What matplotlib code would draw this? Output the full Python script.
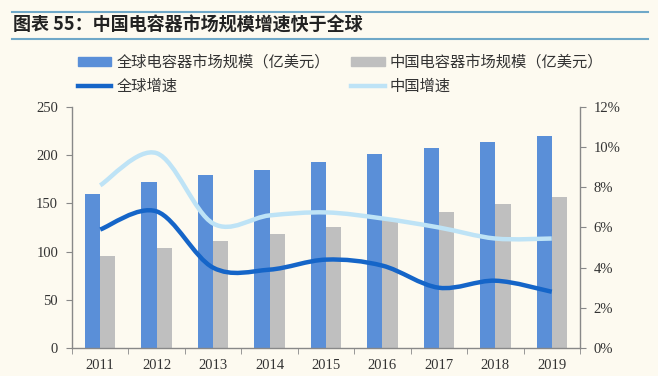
import numpy as np
import matplotlib
matplotlib.use('Agg')
import matplotlib.pyplot as plt
from matplotlib.path import Path
from matplotlib.patches import PathPatch, Patch
from matplotlib.lines import Line2D
from matplotlib.ticker import FuncFormatter

plt.rcParams['font.family'] = ['Liberation Serif', 'Noto Sans CJK SC', 'DejaVu Sans']

years = ['2011', '2012', '2013', '2014', '2015', '2016', '2017', '2018', '2019']
global_size = [160, 172, 179, 185, 193, 201, 207, 214, 220]
china_size = [95, 104, 111, 118, 125, 133, 141, 149, 157]
global_growth = [5.9, 6.8, 4.0, 3.9, 4.4, 4.1, 3.0, 3.35, 2.8]
china_growth = [8.1, 9.7, 6.2, 6.6, 6.75, 6.45, 6.0, 5.45, 5.45]

BG = '#FDFAF0'
C_GLOBAL = '#5A8FD8'
C_CHINA = '#BFBFBF'
C_GG = '#1565C8'
C_CG = '#BEE3F6'
AXC = '#888888'


def smooth_path(xs, ys):
    # Excel-like smoothed line: Catmull-Rom segments as cubic Bezier
    pts = np.column_stack([xs, ys]).astype(float)
    n = len(pts)
    verts = [pts[0]]
    codes = [Path.MOVETO]
    for i in range(n - 1):
        p0 = pts[i - 1] if i > 0 else pts[i]
        p1 = pts[i]
        p2 = pts[i + 1]
        p3 = pts[i + 2] if i + 2 < n else pts[i + 1]
        c1 = p1 + (p2 - p0) / 6.0
        c2 = p2 - (p3 - p1) / 6.0
        verts += [c1, c2, p2]
        codes += [Path.CURVE4] * 3
    return Path(verts, codes)


fig = plt.figure(figsize=(6.58, 3.76), dpi=100, facecolor=BG)
ax = fig.add_axes([0.1094, 0.0745, 0.772, 0.641], facecolor=BG)
ax2 = ax.twinx()

x = np.arange(len(years))
w = 0.27
ax.bar(x - w / 2, global_size, w, color=C_GLOBAL, zorder=2)
ax.bar(x + w / 2, china_size, w, color=C_CHINA, zorder=2)

ax2.add_patch(PathPatch(smooth_path(x, global_growth), fill=False, edgecolor=C_GG,
                        lw=3.2, capstyle='butt', zorder=3))
ax2.add_patch(PathPatch(smooth_path(x, china_growth), fill=False, edgecolor=C_CG,
                        lw=3.2, capstyle='butt', zorder=3))

ax.set_xlim(-0.5, len(years) - 0.5)
ax.set_ylim(0, 250)
ax.set_yticks(range(0, 251, 50))
ax2.set_ylim(0, 12)
ax2.set_yticks(range(0, 13, 2))
ax2.yaxis.set_major_formatter(FuncFormatter(lambda v, p: '%d%%' % v))

ax.set_xticks(x)
ax.set_xticklabels(years)
ax.set_xticks(np.arange(-0.5, len(years), 1), minor=True)
ax.tick_params(axis='x', which='major', length=0, pad=8, labelsize=10.5, colors='#333333')
ax.tick_params(axis='x', which='minor', length=4, color=AXC, direction='out')
ax.tick_params(axis='y', length=4, color=AXC, labelsize=10.5, labelcolor='#333333', pad=6)
ax2.tick_params(axis='y', length=4, color=AXC, labelsize=10.5, labelcolor='#333333', pad=6)

for a in (ax, ax2):
    a.spines['top'].set_visible(False)
    for s in ('left', 'right', 'bottom'):
        a.spines[s].set_color(AXC)
        a.spines[s].set_linewidth(1.0)
ax.spines['right'].set_visible(False)
ax2.spines['left'].set_visible(False)
ax2.spines['bottom'].set_visible(False)

# legend: row 1 = bars, row 2 = lines
handles = [Patch(color=C_GLOBAL), Line2D([], [], color=C_GG, lw=3.2),
           Patch(color=C_CHINA), Line2D([], [], color=C_CG, lw=3.2)]
labels = ['全球电容器市场规模（亿美元）', '全球增速', '中国电容器市场规模（亿美元）', '中国增速']
leg = fig.legend(handles, labels, ncol=2, loc='upper left', bbox_to_anchor=(0.097, 0.893),
                 frameon=False, handlelength=2.2, handleheight=0.45, handletextpad=0.33,
                 columnspacing=1.4, labelspacing=0.45,
                 prop={'family': ['Noto Sans CJK SC'], 'size': 11})
for t in leg.get_texts():
    t.set_color('#333333')

# title with rules
fig.text(0.02, 0.932, '图表 55：中国电容器市场规模增速快于全球', fontsize=13, fontweight='bold',
         family=['Noto Sans CJK SC'], color='#222222', va='center', ha='left')
fig.add_artist(Line2D([0.018, 0.985], [0.967, 0.967], color='#6FA8C8', lw=1.5))
fig.add_artist(Line2D([0.018, 0.985], [0.896, 0.896], color='#6FA8C8', lw=1.5))

fig.savefig('out.png', dpi=100, facecolor=BG)
